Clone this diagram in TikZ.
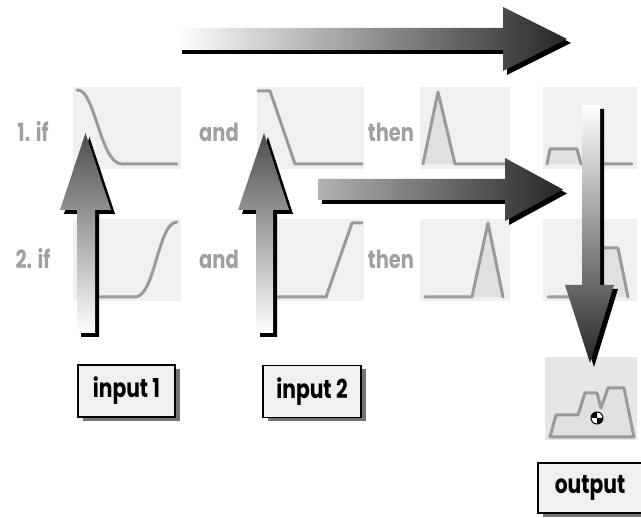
\documentclass[tikz,border=0pt]{standalone}
\usepackage{fontspec}
\setmainfont{Poppins}
\newfontfamily\narrowfont{Poppins}[FakeStretch=0.78]
\usetikzlibrary{shadows}

\definecolor{boxgray}{HTML}{F0F0F0}
\definecolor{outgray}{HTML}{E6E6E6}
\definecolor{curvegray}{HTML}{9A9A9A}
\definecolor{areagray}{HTML}{E0E0E0}
\definecolor{wordgray}{HTML}{A0A0A0}

\begin{document}
\begin{tikzpicture}[x=1pt, y=-1pt,
  mfbox/.style={fill=boxgray, minimum height=82pt, inner sep=0pt},
  mf/.style={curvegray, line width=3pt, line join=round, line cap=round},
  area/.style={fill=areagray},
  word/.style={text=wordgray, font=\narrowfont\bfseries\fontsize{25}{28}\selectfont},
  iobox/.style={draw, line width=1.5pt, fill=boxgray, minimum height=52pt,
    font=\narrowfont\bfseries\fontsize{26}{30}\selectfont,
    drop shadow={shadow xshift=5pt, shadow yshift=-4pt, opacity=1, fill=black!55}},
  shadowpart/.style={fill=black, shift={(4,4)}}]
  \useasboundingbox (0,0) rectangle (641,518);

  % rule boxes
  \node[mfbox, minimum width=108pt] (a1) at (127,128) {};
  \node[mfbox, minimum width=107pt] (b1) at (310.5,128) {};
  \node[mfbox, minimum width=90pt] (c1) at (465,128) {};
  \node[mfbox, minimum width=94pt] (d1) at (590,128) {};
  \node[mfbox, minimum width=108pt] (a2) at (127,260) {};
  \node[mfbox, minimum width=107pt] (b2) at (310.5,260) {};
  \node[mfbox, minimum width=90pt] (c2) at (465,260) {};
  \node[mfbox, minimum width=94pt] (d2) at (590,260) {};
  \node[mfbox, fill=outgray, minimum width=92pt, minimum height=83pt] (res) at (591,398.5) {};

  % membership curves
  \draw[mf] (77,90) .. controls (95,88) and (100,164) .. (122,164) -- (177,164);
  \draw[mf] (258,91) -- (270,91) -- (295,164) -- (362,164);
  \fill[area] (423,164) -- (438,92) -- (455,164) -- cycle;
  \draw[mf] (423,164) -- (438,92) -- (455,164) -- (505,164);
  \fill[area] (547,164) -- (550,149) -- (577,149) -- (581,164) -- cycle;
  \draw[mf] (547,164) -- (550,149) -- (577,149) -- (581,164) -- (632,164);
  \draw[mf] (97,297) -- (135,297) .. controls (155,297) and (158,222) .. (177,222);
  \draw[mf] (258,297) -- (326,297) -- (352,223) -- (362,223);
  \fill[area] (472,297) -- (488,223) -- (503,297) -- cycle;
  \draw[mf] (425,297) -- (472,297) -- (488,223) -- (503,297);
  \fill[area] (594,297) -- (601,248) -- (618,248) -- (628,297) -- cycle;
  \draw[mf] (548,297) -- (594,297) -- (601,248) -- (618,248) -- (628,297);
  \fill[area] (550,437) -- (556,415) -- (578,415) -- (585,393) -- (597,393) -- (601,408)
    -- (608,388) -- (624,388) -- (634,437) -- cycle;
  \draw[mf] (550,437) -- (556,415) -- (578,415) -- (585,393) -- (597,393) -- (601,408)
    -- (608,388) -- (624,388) -- (634,437) -- cycle;
  % centroid
  \draw[fill=white, line width=1pt] (597,418) circle[radius=6];
  \fill (597,418) -- ++(-6,0) arc[start angle=180, end angle=270, radius=6] -- cycle;
  \fill (597,418) -- ++(6,0) arc[start angle=0, end angle=90, radius=6] -- cycle;

  % words
  \node[word] (if1) at (33,132) {1. if};
  \node[word] (and1) at (219,132) {and};
  \node[word] (then1) at (391,132) {then};
  \node[word] (if2) at (33,259) {2. if};
  \node[word] (and2) at (219,259) {and};
  \node[word] (then2) at (391,259) {then};

  % inputs and output
  \node[iobox, minimum width=97pt] (in1) at (126.5,391) {input 1};
  \node[iobox, minimum width=98pt] (in2) at (312,391.5) {input 2};
  \node[iobox, minimum width=104pt, minimum height=50pt] (out) at (590,488) {output};

  % block arrows
  \fill[shadowpart] (178,28) -- (503,28) -- (503,7) -- (567,39) -- (503,71) -- (503,50) -- (178,50) -- cycle;
  \shade[left color=white, right color=black!85] (178,28) -- (503,28) -- (503,7) -- (567,39)
    -- (503,71) -- (503,50) -- (178,50) -- cycle;
  \fill[shadowpart] (318,179) -- (505,179) -- (505,158) -- (563,189.5) -- (505,221) -- (505,200) -- (318,200) -- cycle;
  \shade[left color=black!30, right color=black!85] (318,179) -- (505,179) -- (505,158)
    -- (563,189.5) -- (505,221) -- (505,200) -- (318,200) -- cycle;
  \fill[shadowpart] (77,333) -- (77,210) -- (60,210) -- (85.5,133) -- (111,210) -- (95,210) -- (95,333) -- cycle;
  \shade[top color=black!70, bottom color=white] (77,333) -- (77,210) -- (60,210) -- (85.5,133)
    -- (111,210) -- (95,210) -- (95,333) -- cycle;
  \fill[shadowpart] (256,333) -- (256,210) -- (238,210) -- (264,133) -- (289,210) -- (273,210) -- (273,333) -- cycle;
  \shade[top color=black!70, bottom color=white] (256,333) -- (256,210) -- (238,210) -- (264,133)
    -- (289,210) -- (273,210) -- (273,333) -- cycle;
  \fill[shadowpart] (582,105) -- (600,105) -- (600,285) -- (614,285) -- (590,363) -- (565,285) -- (582,285) -- cycle;
  \shade[top color=white, bottom color=black!85] (582,105) -- (600,105) -- (600,285) -- (614,285)
    -- (590,363) -- (565,285) -- (582,285) -- cycle;
\end{tikzpicture}
\end{document}
